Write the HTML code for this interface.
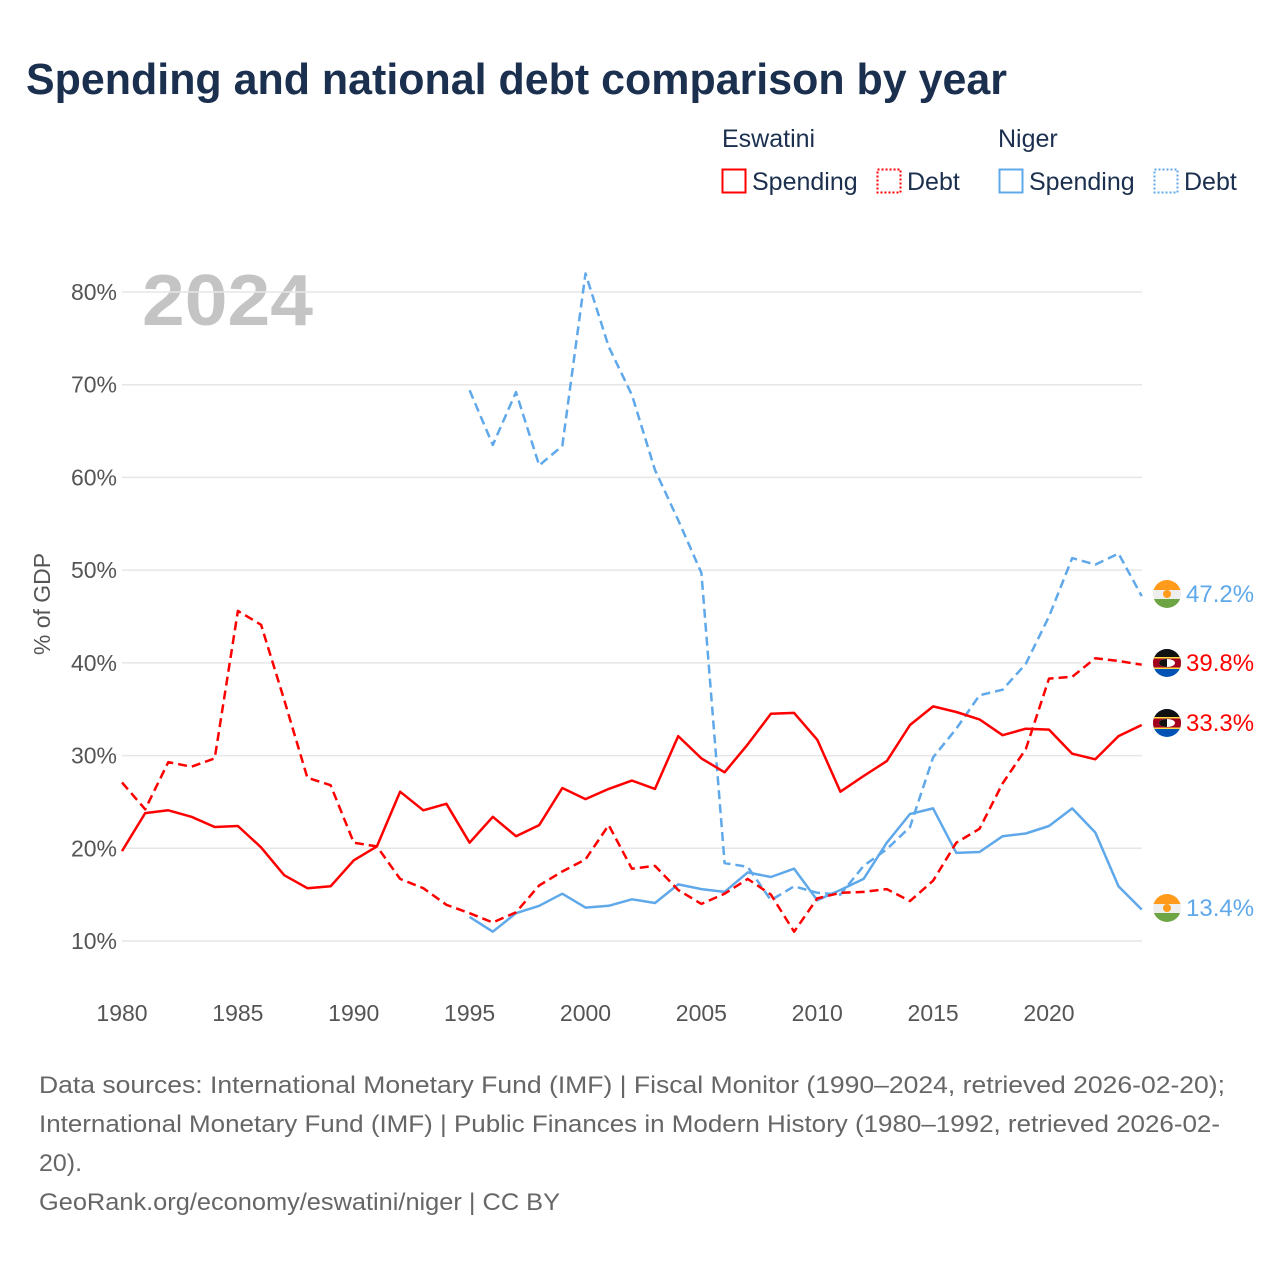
<!DOCTYPE html>
<html><head><meta charset="utf-8">
<style>
body{margin:0;background:#fff;font-family:"Liberation Sans",sans-serif;}
#wrap{position:relative;width:1280px;height:1280px;overflow:hidden;}
</style></head>
<body>
<div id="wrap">
<svg id="chart" width="1280" height="1280" xmlns="http://www.w3.org/2000/svg" font-family="Liberation Sans, sans-serif">
<text x="26" y="94" font-size="44" font-weight="bold" fill="#1b2f4e" textLength="981" lengthAdjust="spacingAndGlyphs">Spending and national debt comparison by year</text>
<g font-size="25" fill="#1b2f4e">
<text x="722" y="147">Eswatini</text>
<text x="998" y="147">Niger</text>
<g><rect x="722.5" y="169.5" width="23" height="23" fill="none" stroke="#ff0000" stroke-width="2"/><text x="752" y="190">Spending</text></g>
<g><rect x="877.5" y="169.5" width="23" height="23" fill="none" stroke="#ff0000" stroke-width="2" stroke-dasharray="2,2"/><text x="907" y="190">Debt</text></g>
<g><rect x="999.5" y="169.5" width="23" height="23" fill="none" stroke="#5fa8ea" stroke-width="2"/><text x="1029" y="190">Spending</text></g>
<g><rect x="1154.5" y="169.5" width="23" height="23" fill="none" stroke="#5fa8ea" stroke-width="2" stroke-dasharray="2,2"/><text x="1184" y="190">Debt</text></g>
</g>
<text x="142" y="325" font-size="72" font-weight="bold" fill="#c4c4c4" textLength="171" lengthAdjust="spacingAndGlyphs">2024</text>
<text transform="translate(50,604) rotate(-90)" text-anchor="middle" font-size="23" fill="#555">% of GDP</text>
<g id="grid"></g>
<g id="marks"></g>
<g id="endlabels"></g>
<g font-size="24" fill="#666">
<text x="39" y="1093" textLength="1186" lengthAdjust="spacingAndGlyphs">Data sources: International Monetary Fund (IMF) | Fiscal Monitor (1990–2024, retrieved 2026-02-20);</text>
<text x="39" y="1132" textLength="1181" lengthAdjust="spacingAndGlyphs">International Monetary Fund (IMF) | Public Finances in Modern History (1980–1992, retrieved 2026-02-</text>
<text x="39" y="1171" textLength="43" lengthAdjust="spacingAndGlyphs">20).</text>
<text x="39" y="1210" textLength="521" lengthAdjust="spacingAndGlyphs">GeoRank.org/economy/eswatini/niger | CC BY</text>
</g>
</svg>
</div>
<script>
const yTicks=[10,20,30,40,50,60,70,80];
const xTicks=[1980,1985,1990,1995,2000,2005,2010,2015,2020];
const eswSpendingYears=[1980,1981,1982,1983,1984,1985,1986,1987,1988,1989,1990,1991,1992,1993,1994,1995,1996,1997,1998,1999,2000,2001,2002,2003,2004,2005,2006,2007,2008,2009,2010,2011,2012,2013,2014,2015,2016,2017,2018,2019,2020,2021,2022,2023,2024];
const eswSpending=[19.7,23.8,24.1,23.4,22.3,22.4,20.1,17.1,15.7,15.9,18.7,20.2,26.1,24.1,24.8,20.6,23.4,21.3,22.5,26.5,25.3,26.4,27.3,26.4,32.1,29.7,28.2,31.2,34.5,34.6,31.7,26.1,27.8,29.4,33.3,35.3,34.7,33.9,32.2,32.9,32.8,30.2,29.6,32.1,33.3];
const eswDebt=[27.1,24.2,29.3,28.8,29.7,45.6,44.1,36.0,27.6,26.8,20.6,20.2,16.7,15.7,13.9,13.0,12.0,13.1,16.0,17.5,18.8,22.5,17.8,18.1,15.5,14.0,15.1,16.7,15.0,11.0,14.6,15.2,15.3,15.6,14.3,16.5,20.6,22.1,27.0,30.7,38.3,38.5,40.5,40.2,39.8];
const nerYears=[1995,1996,1997,1998,1999,2000,2001,2002,2003,2004,2005,2006,2007,2008,2009,2010,2011,2012,2013,2014,2015,2016,2017,2018,2019,2020,2021,2022,2023,2024];
const nerSpending=[12.6,11.0,13.0,13.8,15.1,13.6,13.8,14.5,14.1,16.1,15.6,15.3,17.4,16.9,17.8,14.4,15.5,16.7,20.6,23.7,24.3,19.5,19.6,21.3,21.6,22.4,24.3,21.7,15.9,13.4];
const nerDebt=[69.4,63.5,69.2,61.3,63.4,82.0,74.1,68.9,60.8,55.4,49.7,18.4,18.0,14.4,15.9,15.2,15.0,18.1,19.9,22.3,29.8,32.9,36.5,37.1,39.9,45.0,51.3,50.6,51.8,47.2];

const NS='http://www.w3.org/2000/svg';
const xS=y=>122+(y-1980)*(927/40);
const yS=v=>941-(v-10)*(649/70);
function mk(tag,attrs,parent){const e=document.createElementNS(NS,tag);for(const k in attrs)e.setAttribute(k,attrs[k]);parent.appendChild(e);return e;}
const grid=document.getElementById('grid');
yTicks.forEach(t=>{
  const l=mk('line',{x1:122,x2:1142,y1:yS(t),y2:yS(t),stroke:'#e6e6e6','stroke-width':1.5},grid);
  
  
  const tx=mk('text',{x:117,y:yS(t)+8,'text-anchor':'end','font-size':23,fill:'#555'},grid);
  tx.textContent=t+'%';
  
  
});
xTicks.forEach(t=>{
  const tx=mk('text',{x:xS(t),y:1021,'text-anchor':'middle','font-size':23,fill:'#555'},grid);
  tx.textContent=t;
  
  
});
const marks=document.getElementById('marks');
function line(years,vals,color,dash,name){
  const d=years.map((y,i)=>(i?'L':'M')+xS(y).toFixed(1)+','+yS(vals[i]).toFixed(1)).join('');
  const p=mk('path',{d:d,fill:'none',stroke:color,'stroke-width':2.5,'stroke-linejoin':'round'},marks);
  if(dash)p.setAttribute('stroke-dasharray','9,5');
  
  
}
line(nerYears,nerDebt,'#5fa8ea',true,'niger-debt-line');
line(nerYears,nerSpending,'#5fa8ea',false,'niger-spending-line');
line(eswSpendingYears,eswDebt,'#ff0000',true,'eswatini-debt-line');
line(eswSpendingYears,eswSpending,'#ff0000',false,'eswatini-spending-line');

const el=document.getElementById('endlabels');
function flag(cx,cy,type,parent){
  const g=mk('g',{},parent);
  const cid='c'+Math.round(cy);
  const cp=mk('clipPath',{id:cid},g);mk('circle',{cx:cx,cy:cy,r:14},cp);
  const f=mk('g',{'clip-path':'url(#'+cid+')'},g);
  if(type==='ner'){
    mk('rect',{x:cx-14,y:cy-14,width:28,height:10,fill:'#ff9a1a'},f);
    mk('rect',{x:cx-14,y:cy-4,width:28,height:9,fill:'#eeeeee'},f);
    mk('rect',{x:cx-14,y:cy+5,width:28,height:9,fill:'#6da544'},f);
    mk('circle',{cx:cx,cy:cy,r:4,fill:'#ff9a1a'},f);
  }else{
    mk('rect',{x:cx-14,y:cy-14,width:28,height:28,fill:'#0052b4'},f);
    mk('rect',{x:cx-14,y:cy-14,width:28,height:9,fill:'#111'},f);
    mk('rect',{x:cx-14,y:cy-6,width:28,height:12,fill:'#ffda44'},f);
    mk('rect',{x:cx-14,y:cy-4.5,width:28,height:9,fill:'#a2001d'},f);
    mk('ellipse',{cx:cx,cy:cy,rx:8,ry:4,fill:'#fff'},f);
    mk('path',{d:`M${cx-8},${cy}A8,4 0 0 1 ${cx},${cy-4}V${cy+4}A8,4 0 0 1 ${cx-8},${cy}Z`,fill:'#111'},f);
  }
  return g;
}
function endLabel(v,cy,color,type,name){
  const g=mk('g',{},el);
  
  
  flag(1167,cy,type,g);
  const t=mk('text',{x:1186,y:cy+8,'font-size':24,fill:color},g);
  t.textContent=v.toFixed(1)+'%';
}
endLabel(nerDebt[nerDebt.length-1],594,'#5fa8ea','ner','niger-debt-end-label');
endLabel(eswDebt[eswDebt.length-1],663,'#ff0000','esw','eswatini-debt-end-label');
endLabel(eswSpending[eswSpending.length-1],723,'#ff0000','esw','eswatini-spending-end-label');
endLabel(nerSpending[nerSpending.length-1],908,'#5fa8ea','ner','niger-spending-end-label');
</script>
</body></html>
